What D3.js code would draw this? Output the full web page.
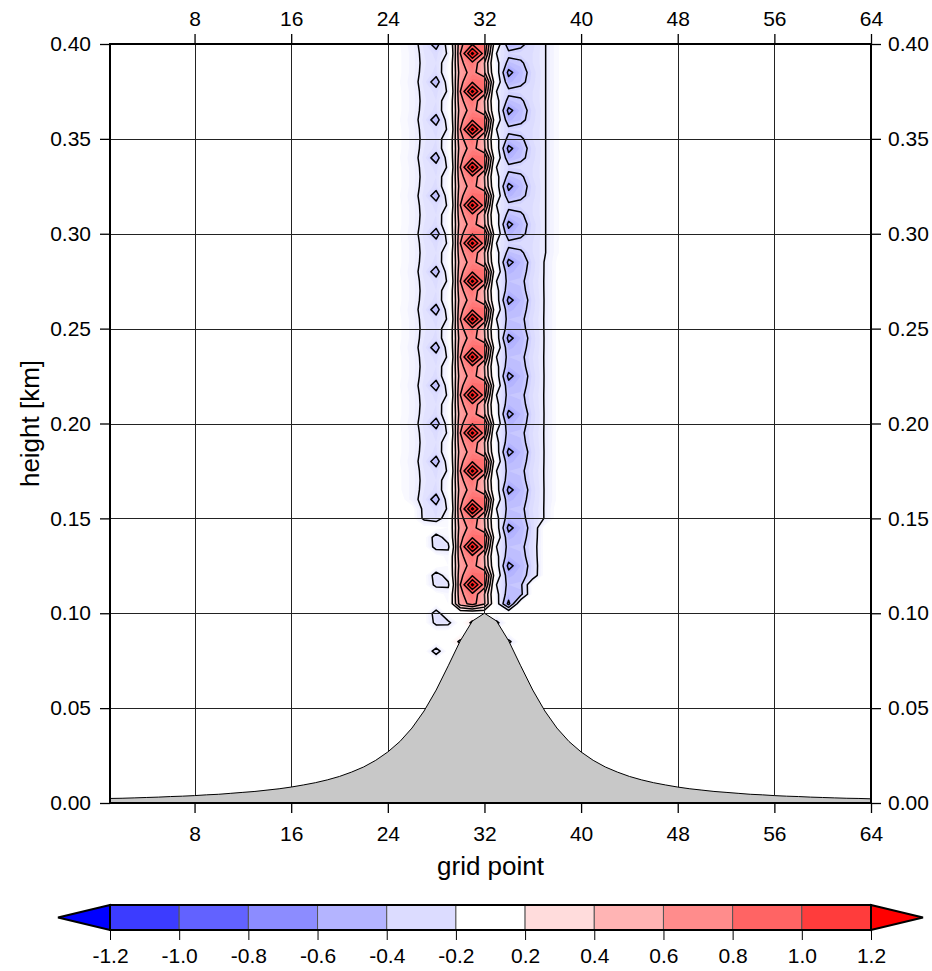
<!DOCTYPE html>
<html>
<head>
<meta charset="utf-8">
<script src="https://cdnjs.cloudflare.com/ajax/libs/d3/7.8.5/d3.min.js"></script>
<style>
  body { margin: 0; background: #fff; }
  svg text { font-family: "Liberation Sans", Arial, Helvetica, sans-serif; fill: #000; }
</style>
</head>
<body>
<div id="chart"></div>
<script>
//////////////////////////
// Wave over a mountain //
//////////////////////////

// Axis ticks
var xTicks = [8, 16, 24, 32, 40, 48, 56, 64];
var yTicks = [0, 0.05, 0.10, 0.15, 0.20, 0.25, 0.30, 0.35, 0.40];

// Contour levels and fill colours (below first level ... above last level)
var levels = [-1.2, -1.0, -0.8, -0.6, -0.4, -0.2, 0.2, 0.4, 0.6, 0.8, 1.0, 1.2];
var levelColors = ["#0000ff", "#3c3cff", "#6262ff", "#8c8cff", "#b4b4ff", "#dcdcff", "#ffffff",
                   "#ffdcdc", "#ffb4b4", "#ff8c8c", "#ff6464", "#ff3c3c", "#ff0000"];
var lineLevels = [-1.2, -1.0, -0.8, -0.6, -0.4, -0.2, 0.2, 0.4, 0.6, 0.8, 1.0, 1.2, 1.4];

// Terrain height (km) at grid points 1..64
var terrain = [0.0024, 0.0025, 0.0027, 0.0029, 0.0031, 0.0034, 0.0036, 0.0039,
               0.0043, 0.0046, 0.0051, 0.0056, 0.0061, 0.0068, 0.0075, 0.0084,
               0.0095, 0.0107, 0.0122, 0.0140, 0.0163, 0.0190, 0.0225, 0.0269,
               0.0324, 0.0395, 0.0485, 0.0595, 0.0723, 0.0855, 0.0959, 0.1000,
               0.0959, 0.0855, 0.0723, 0.0595, 0.0485, 0.0395, 0.0324, 0.0269,
               0.0225, 0.0190, 0.0163, 0.0140, 0.0122, 0.0107, 0.0095, 0.0084,
               0.0075, 0.0068, 0.0061, 0.0056, 0.0051, 0.0046, 0.0043, 0.0039,
               0.0036, 0.0034, 0.0031, 0.0029, 0.0027, 0.0025, 0.0024, 0.0022];

// Vertical levels of the field
var dz = 0.005;
var zTop = 0.40;

// Wave field: columns, lowest height, and one vertical period (4 levels,
// starting at the red maxima 0.115, 0.135, ...). Upper part above 0.29 km.
var waveColumns = [25, 26, 27, 28, 29, 30, 31, 32, 33, 34, 35, 36, 37, 38];
var waveBottom  = [0.165, 0.16, 0.15, 0.15, 0.105, 0.105, 0.105, 0.105, 0.105, 0.105, 0.11, 0.12, 0.15, 0.16];
var firstPeak = 0.115;
var upperFrom = 0.29;
var waveUpper = [
    [-0.04, -0.05, -0.04, -0.04],
    [-0.12, -0.13, -0.12, -0.12],
    [-0.25, -0.27, -0.25, -0.24],
    [-0.32, -0.50, -0.32, -0.30],
    [-0.18, -0.10, -0.05, -0.08],
    [0.80, 0.75, 0.70, 0.75],
    [1.45, 0.98, 0.88, 0.95],
    [0.90, 1.00, 0.62, 0.60],
    [-0.20, -0.06, -0.10, -0.14],
    [-0.35, -0.52, -0.66, -0.46],
    [-0.33, -0.45, -0.48, -0.43],
    [-0.30, -0.32, -0.33, -0.30],
    [-0.21, -0.21, -0.21, -0.21],
    [-0.06, -0.06, -0.06, -0.06]
];
var waveLower = [
    [-0.04, -0.05, -0.04, -0.04],
    [-0.12, -0.13, -0.12, -0.12],
    [-0.25, -0.27, -0.25, -0.24],
    [-0.32, -0.50, -0.32, -0.30],
    [-0.18, -0.10, -0.05, -0.08],
    [0.80, 0.75, 0.70, 0.75],
    [1.45, 0.98, 0.88, 0.95],
    [0.90, 1.00, 0.62, 0.60],
    [-0.20, -0.06, -0.10, -0.14],
    [-0.45, -0.52, -0.66, -0.50],
    [-0.44, -0.47, -0.50, -0.46],
    [-0.30, -0.32, -0.33, -0.31],
    [-0.19, -0.19, -0.19, -0.19],
    [-0.04, -0.04, -0.04, -0.04]
];

// Isolated cells near the mountain: [grid point, height km, value]
var blobs = [
    [28, 0.14, -0.30], [28, 0.135, -0.28], [29, 0.135, -0.26],
    [28, 0.12, -0.30], [28, 0.115, -0.26], [29, 0.115, -0.25],
    [28, 0.10, -0.30], [28, 0.095, -0.26], [29, 0.095, -0.25],
    [28, 0.08, -0.30],
    [30, 0.085, 0.25], [31, 0.095, 0.25], [33, 0.095, -0.25], [34, 0.085, -0.25]
];

// Build the grid
//--------------
var nx = terrain.length;
var nz = Math.round(zTop / dz) + 1;
var values = new Array(nx * nz).fill(0);

waveColumns.forEach(function (col, c) {
    for (var j = 0; j < nz; j++) {
        var z = j * dz;
        if (z < waveBottom[c] - 1e-9) continue;
        var k = ((Math.round((z - firstPeak) / dz) % 4) + 4) % 4;
        var tile = z >= upperFrom - 1e-9 ? waveUpper : waveLower;
        values[j * nx + (col - 1)] = tile[c][k];
    }
});
blobs.forEach(function (b) {
    values[Math.round(b[1] / dz) * nx + (b[0] - 1)] = b[2];
});

// Layout
//-------
var width = 932, height = 971;
var plot = { left: 110, right: 871, top: 44, bottom: 803 };

var svg = d3.select("#chart").append("svg")
    .attr("width", width)
    .attr("height", height);

var xScale = d3.scaleLinear().domain([1, 64]).range([plot.left, plot.right]);
var yScale = d3.scaleLinear().domain([0, 0.4]).range([plot.bottom, plot.top]);

svg.append("clipPath").attr("id", "plotclip")
    .append("rect")
    .attr("x", plot.left).attr("y", plot.top)
    .attr("width", plot.right - plot.left)
    .attr("height", plot.bottom - plot.top);

// grid coords -> screen (d3.contours puts sample i at i + 0.5)
var gridProj = d3.geoTransform({
    point: function (gx, gy) {
        this.stream.point(xScale(gx + 0.5), yScale((gy - 0.5) * dz));
    }
});
var path = d3.geoPath(gridProj);

// Smooth colour for the shading
var fieldColor = d3.scaleLinear()
    .domain([-1.3, -1.1, -0.9, -0.7, -0.5, -0.3, 0, 0.4, 0.6, 0.8, 1.0, 1.2, 1.4])
    .range(levelColors)
    .clamp(true);

var fillThresholds = d3.range(-30, 33).map(function (i) { return i / 20; });
var fillContours = d3.contours().size([nx, nz]).thresholds(fillThresholds)(values);

var field = svg.append("g").attr("clip-path", "url(#plotclip)");

field.selectAll("path.band")
    .data(fillContours)
    .enter()
    .append("path")
    .attr("class", "band")
    .attr("d", path)
    .attr("fill", function (d) {
        var v = d.value < 0 ? d.value + 0.05 : d.value;
        return fieldColor(v);
    })
    .attr("stroke", "none");

var lineContours = d3.contours().size([nx, nz]).thresholds(lineLevels)(values);

field.selectAll("path.line")
    .data(lineContours)
    .enter()
    .append("path")
    .attr("class", "line")
    .attr("d", path)
    .attr("fill", "none")
    .attr("stroke", "#000")
    .attr("stroke-width", 1.5)
    .attr("stroke-linejoin", "round");

// Grid lines
//-----------
svg.append("g").selectAll("line")
    .data(xTicks.filter(function (d) { return d < 64; }))
    .enter()
    .append("line")
    .attr("x1", function (d) { return Math.round(xScale(d)) + 0.5; })
    .attr("x2", function (d) { return Math.round(xScale(d)) + 0.5; })
    .attr("y1", plot.top)
    .attr("y2", plot.bottom)
    .attr("stroke", "#222")
    .attr("stroke-width", 1);

svg.append("g").selectAll("line")
    .data(yTicks.filter(function (d) { return d > 0 && d < 0.4; }))
    .enter()
    .append("line")
    .attr("x1", plot.left)
    .attr("x2", plot.right)
    .attr("y1", function (d) { return Math.round(yScale(d)) + 0.5; })
    .attr("y2", function (d) { return Math.round(yScale(d)) + 0.5; })
    .attr("stroke", "#222")
    .attr("stroke-width", 1);

// Terrain
//--------
var terrainArea = d3.area()
    .x(function (d, i) { return xScale(i + 1); })
    .y0(yScale(0))
    .y1(function (d) { return yScale(d); });

var terrainLine = d3.line()
    .x(function (d, i) { return xScale(i + 1); })
    .y(function (d) { return yScale(d); });

svg.append("path")
    .datum(terrain)
    .attr("d", terrainArea)
    .attr("fill", "#c8c8c8");

svg.append("path")
    .datum(terrain)
    .attr("d", terrainLine)
    .attr("fill", "none")
    .attr("stroke", "#000")
    .attr("stroke-width", 1);

// Axes
//-----
function styleAxis(g) {
    g.select(".domain").remove();
    g.selectAll(".tick line").attr("stroke", "#000").attr("stroke-width", 1.3);
    g.selectAll(".tick text").style("font-size", "21px");
}

svg.append("g")
    .attr("transform", "translate(" + plot.left + ",0)")
    .call(d3.axisLeft(yScale).tickValues(yTicks).tickSize(10).tickPadding(9).tickFormat(d3.format(".2f")))
    .call(styleAxis);

svg.append("g")
    .attr("transform", "translate(" + plot.right + ",0)")
    .call(d3.axisRight(yScale).tickValues(yTicks).tickSize(10).tickPadding(7).tickFormat(d3.format(".2f")))
    .call(styleAxis);

svg.append("g")
    .attr("transform", "translate(0," + plot.bottom + ")")
    .call(d3.axisBottom(xScale).tickValues(xTicks).tickSize(10).tickPadding(13))
    .call(styleAxis);

svg.append("g")
    .attr("transform", "translate(0," + plot.top + ")")
    .call(d3.axisTop(xScale).tickValues(xTicks).tickSize(10).tickPadding(8))
    .call(styleAxis);

// Frame
svg.append("rect")
    .attr("x", plot.left)
    .attr("y", plot.top)
    .attr("width", plot.right - plot.left)
    .attr("height", plot.bottom - plot.top)
    .attr("fill", "none")
    .attr("stroke", "#000")
    .attr("stroke-width", 2);

// Axis titles
svg.append("text")
    .attr("x", (plot.left + plot.right) / 2)
    .attr("y", 875)
    .attr("text-anchor", "middle")
    .style("font-size", "26px")
    .text("grid point");

svg.append("text")
    .attr("transform", "translate(39," + (plot.top + plot.bottom) / 2 + ") rotate(-90)")
    .attr("text-anchor", "middle")
    .style("font-size", "26px")
    .text("height [km]");

// Colour bar
//-----------
var cb = { top: 905, bottom: 930, tip: 52 };
var cbScale = d3.scaleLinear().domain([0, levels.length - 1]).range([plot.left, plot.right]);
var cbG = svg.append("g");

cbG.selectAll("rect")
    .data(d3.range(levels.length - 1))
    .enter()
    .append("rect")
    .attr("x", function (i) { return cbScale(i); })
    .attr("y", cb.top)
    .attr("width", function (i) { return cbScale(i + 1) - cbScale(i); })
    .attr("height", cb.bottom - cb.top)
    .attr("fill", function (i) { return levelColors[i + 1]; })
    .attr("stroke", "#555")
    .attr("stroke-width", 1);

var midY = (cb.top + cb.bottom) / 2;
cbG.append("polygon")
    .attr("points", [[plot.left, cb.top], [plot.left - cb.tip, midY], [plot.left, cb.bottom]].join(" "))
    .attr("fill", levelColors[0])
    .attr("stroke", "#000")
    .attr("stroke-width", 2)
    .attr("stroke-linejoin", "miter");

cbG.append("polygon")
    .attr("points", [[plot.right, cb.top], [plot.right + cb.tip, midY], [plot.right, cb.bottom]].join(" "))
    .attr("fill", levelColors[levelColors.length - 1])
    .attr("stroke", "#000")
    .attr("stroke-width", 2)
    .attr("stroke-linejoin", "miter");

cbG.append("rect")
    .attr("x", plot.left)
    .attr("y", cb.top)
    .attr("width", plot.right - plot.left)
    .attr("height", cb.bottom - cb.top)
    .attr("fill", "none")
    .attr("stroke", "#000")
    .attr("stroke-width", 2);

svg.append("g")
    .attr("transform", "translate(0," + cb.bottom + ")")
    .call(d3.axisBottom(cbScale)
        .tickValues(d3.range(levels.length))
        .tickSize(10)
        .tickPadding(8)
        .tickFormat(function (i) { return levels[i].toFixed(1); }))
    .call(function (g) {
        g.select(".domain").remove();
        g.selectAll(".tick line").attr("stroke", "#000").attr("stroke-width", 1);
        g.selectAll(".tick text").style("font-size", "21px");
    });
</script>
</body>
</html>
